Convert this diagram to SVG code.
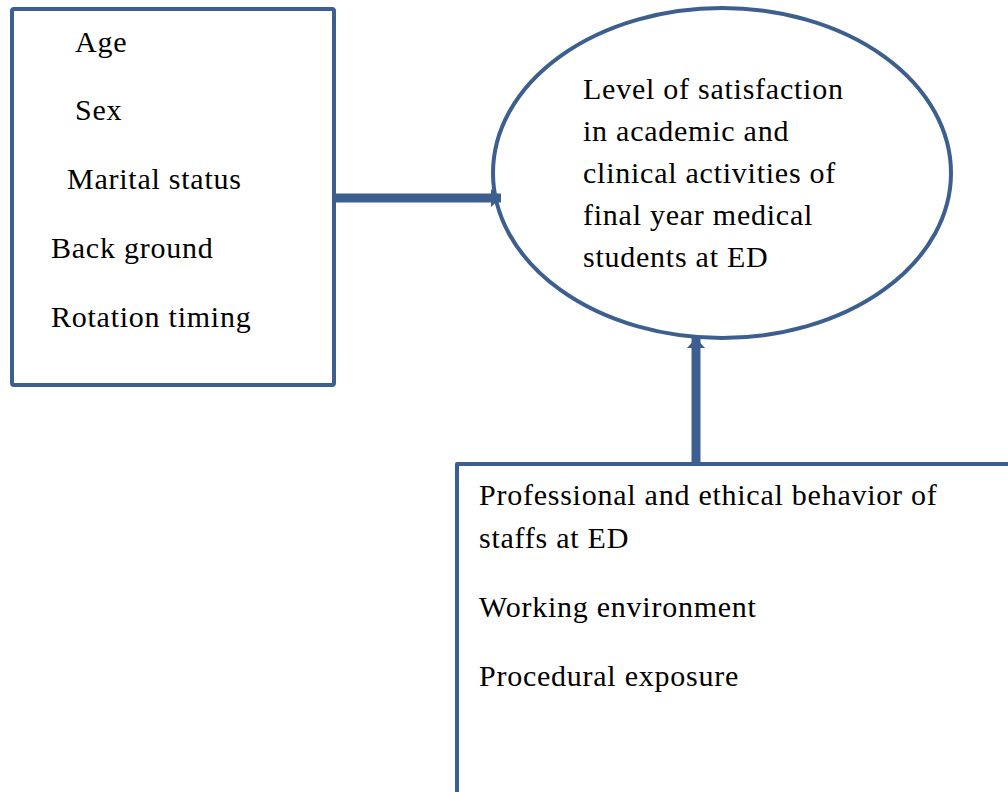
<svg xmlns="http://www.w3.org/2000/svg" width="1008" height="792" viewBox="0 0 1008 792">
  <style>
    .frame { fill: #ffffff; stroke: #3c5f8f; stroke-width: 4; stroke-linejoin: round; }
    .label { font-family: "Liberation Serif", "Times New Roman", serif; font-size: 30px; letter-spacing: 0.75px; fill: #000000; }
    .link { stroke: #3c5f8f; stroke-width: 9; fill: none; }
  </style>
  <defs>
    <marker id="head" markerUnits="userSpaceOnUse" markerWidth="12" markerHeight="20" refX="10" refY="10" orient="auto">
      <path d="M0,1 L10,10 L0,19 Z" fill="#3c5f8f"/>
    </marker>
  </defs>

  <rect width="1008" height="792" fill="#ffffff"/>

  <!-- background variables -->
  <g id="demographics">
    <rect class="frame" x="12" y="9" width="322" height="376" rx="2"/>
    <text class="label" x="75" y="52">Age</text>
    <text class="label" x="75" y="120">Sex</text>
    <text class="label" x="67" y="189">Marital status</text>
    <text class="label" x="51" y="258">Back ground</text>
    <text class="label" x="51" y="327">Rotation timing</text>
  </g>

  <!-- outcome -->
  <g id="satisfaction">
    <ellipse class="frame" cx="722" cy="173" rx="229" ry="165"/>
    <text class="label" x="583" y="99">Level of satisfaction</text>
    <text class="label" x="583" y="141">in academic and</text>
    <text class="label" x="583" y="183">clinical activities of</text>
    <text class="label" x="583" y="225">final year medical</text>
    <text class="label" x="583" y="267">students at ED</text>
  </g>

  <!-- environment variables (box runs past the page edge) -->
  <g id="environment">
    <rect class="frame" x="457" y="464" width="600" height="400"/>
    <text class="label" x="479" y="505">Professional and ethical behavior of</text>
    <text class="label" x="479" y="548">staffs at ED</text>
    <text class="label" x="479" y="617">Working environment</text>
    <text class="label" x="479" y="686">Procedural exposure</text>
  </g>

  <g id="connectors">
    <line class="link" x1="336" y1="198" x2="501" y2="198" marker-end="url(#head)"/>
    <line class="link" x1="696" y1="464" x2="696" y2="338" marker-end="url(#head)"/>
  </g>
</svg>
